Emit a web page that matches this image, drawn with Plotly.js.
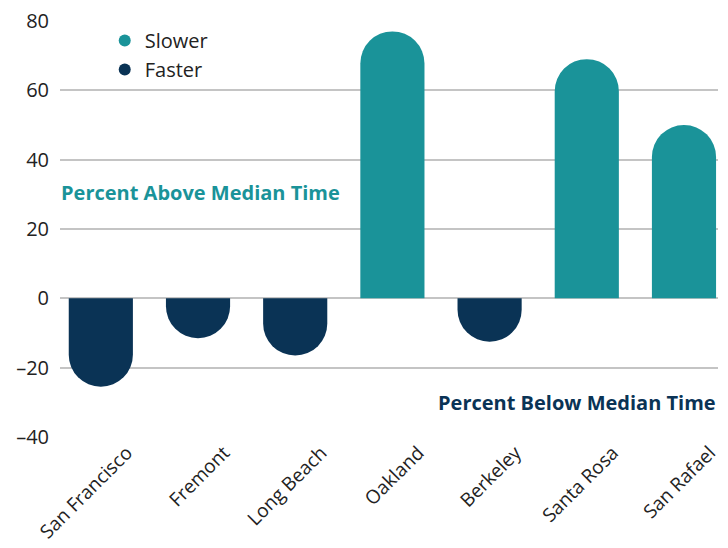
<!DOCTYPE html>
<html>
<head>
<meta charset="utf-8">
<script src="https://cdn.plot.ly/plotly-3.0.1.min.js"></script>
<style>html,body{margin:0;padding:0;background:#fff;}#chart{width:728px;height:548px;}</style>
</head>
<body>
<div id="chart"></div>
<script>
const cities = ["San Francisco", "Fremont", "Long Beach", "Oakland", "Berkeley", "Santa Rosa", "San Rafael"];
const values = [-25.5, -11.5, -16.5, 77, -12.5, 69, 50];
const yTicks = [-40, -20, 0, 20, 40, 60, 80];
const seriesNames = ["Slower", "Faster"];
const seriesColors = ["#1a9399", "#0a3355"];

const slowerVals = values.map(v => v > 0 ? v : null);
const fasterVals = values.map(v => v < 0 ? v : null);

const FONT = "'Open Sans', Lato, sans-serif";

const barCommon = {
  type: "bar",
  x: cities,
  showlegend: false,
  hoverinfo: "x+y",
  marker: {cornerradius: "50%", line: {width: 0}}
};

const data = [
  Object.assign({}, barCommon, {y: slowerVals, name: seriesNames[0], marker: Object.assign({}, barCommon.marker, {color: seriesColors[0]})}),
  Object.assign({}, barCommon, {y: fasterVals, name: seriesNames[1], marker: Object.assign({}, barCommon.marker, {color: seriesColors[1]})}),
  {type: "scatter", mode: "markers", x: [null], y: [null], name: seriesNames[0], marker: {symbol: "circle", size: 13, color: seriesColors[0]}, showlegend: true},
  {type: "scatter", mode: "markers", x: [null], y: [null], name: seriesNames[1], marker: {symbol: "circle", size: 13, color: seriesColors[1]}, showlegend: true}
];

const layout = {
  width: 728, height: 548,
  margin: {l: 60, r: 10, t: 21, b: 111},
  paper_bgcolor: "#fff", plot_bgcolor: "#fff",
  barmode: "overlay",
  bargap: 0.34,
  font: {family: FONT, size: 19, color: "#222"},
  xaxis: {
    type: "category",
    range: [-0.42, 6.35],
    tickangle: -45,
    showgrid: false, zeroline: false, showline: false,
    ticks: "",
    ticklabelshift: 26,
    ticklabelstandoff: 0,
    tickfont: {family: FONT, size: 19, color: "#222"}
  },
  yaxis: {
    range: [-40, 80],
    tickvals: yTicks,
    ticktext: yTicks.map(v => v < 0 ? "\u2013" + Math.abs(v) : String(v)),
    showgrid: true, gridcolor: "#c4c4c4", gridwidth: 2,
    zeroline: true, zerolinecolor: "#c4c4c4", zerolinewidth: 2,
    showline: false, ticks: "",
    ticklabelstandoff: 10,
    tickfont: {family: FONT, size: 20, color: "#222"}
  },
  legend: {
    x: 0.068, y: 1.0, xanchor: "left", yanchor: "top",
    bgcolor: "rgba(0,0,0,0)",
    font: {family: FONT, size: 20, color: "#222"},
    itemsizing: "constant"
  },
  annotations: [
    {text: "<b>Percent Above Median Time</b>", xref: "paper", yref: "y", x: -0.002, y: 30.5, xanchor: "left", yanchor: "middle", showarrow: false, font: {family: FONT, size: 20, color: "#1a9399"}},
    {text: "<b>Percent Below Median Time</b>", xref: "paper", yref: "y", x: 1, y: -30, xanchor: "right", yanchor: "middle", showarrow: false, font: {family: FONT, size: 20, color: "#0a3355"}}
  ]
};

Plotly.newPlot("chart", data, layout, {displayModeBar: false, staticPlot: true});
</script>
</body>
</html>
